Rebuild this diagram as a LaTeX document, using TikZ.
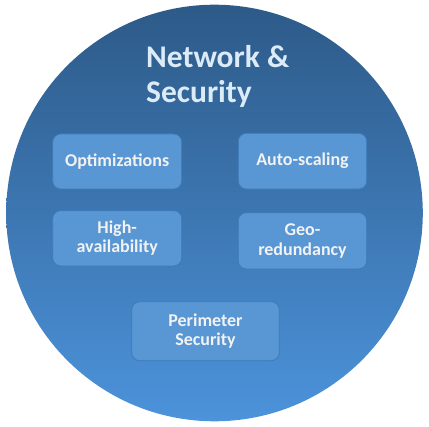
\documentclass[tikz,border=0pt]{standalone}
\usepackage{fontspec}
\setmainfont{Carlito}
\usepackage{xcolor}
\usepackage{tikz}
\usetikzlibrary{positioning, calc}

\definecolor{circtop}{RGB}{45,90,136}
\definecolor{circbot}{RGB}{76,147,219}
\definecolor{boxfill}{RGB}{88,150,212}
\definecolor{boxline}{RGB}{62,122,184}
\definecolor{titletext}{RGB}{220,235,248}

\begin{document}
\begin{tikzpicture}[x=1pt,y=1pt,yscale=-1,xscale=1,
  item/.style={draw=boxline, line width=0.8pt, fill=boxfill, rounded corners=8pt,
    text=white!95!black, font=\bfseries\fontsize{18}{19.5}\selectfont, align=center, inner sep=0pt}]
\useasboundingbox (0,0) rectangle (429,427);

%Shape: Circle
\shade [top color=circtop, bottom color=circbot] (214.5,213) circle (208.3);

% Text Node
\node (title) [anchor=north west, inner sep=0pt, align=left, text=titletext,
  font=\bfseries\fontsize{31.5}{35}\selectfont] at (146,45) {Network \&\\Security};

%Shape: Rounded Rectangles
\node (optim) [item, minimum width=129, minimum height=55] at (117.2,161.5) {Optimizations};
\node (autosc) [item, minimum width=128.4, minimum height=55.7] at (302.5,161.2) {Auto-scaling};
\node (highav) [item, minimum width=129, minimum height=55.3] at (117.2,238.3) {High-\\availability};
\node (geored) [item, minimum width=128.4, minimum height=56.3] at (302.5,240.8) {Geo-\\redundancy};
\node (perim) [item, minimum width=147.6, minimum height=59] at (205.5,331.2) {Perimeter\\Security};

\end{tikzpicture}
\end{document}
